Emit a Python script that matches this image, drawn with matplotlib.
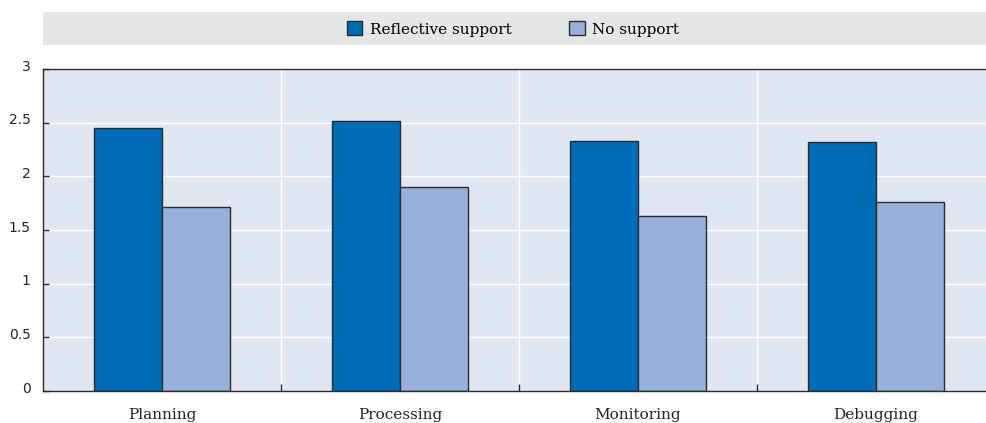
"""
Reflective support vs no support, grouped bar chart.
"""

import numpy as np
import matplotlib.pyplot as plt
import matplotlib.transforms as mtransforms
from matplotlib.patches import Rectangle, Patch

# ---------------------------------------------------------------------------
# Data
# ---------------------------------------------------------------------------

CATEGORIES = ["Planning", "Processing", "Monitoring", "Debugging"]
REFLECTIVE = [2.45, 2.52, 2.33, 2.32]
NO_SUPPORT = [1.71, 1.90, 1.63, 1.76]
Y_TICKS = [0, 0.5, 1, 1.5, 2, 2.5, 3]
Y_LABELS = ["0", "0.5", "1", "1.5", "2", "2.5", "3"]

C_REFL = "#006BB6"
C_NONE = "#97B1DC"
C_BG = "#E0E7F3"
C_EDGE = "#2b2b2b"
SERIF = "DejaVu Serif"

# ---------------------------------------------------------------------------
# Plot
# ---------------------------------------------------------------------------

fig = plt.figure(figsize=(9.87, 4.23), dpi=100)
# plot area runs past the right edge of the picture (clipped, as in the source)
ax = fig.add_axes([43 / 987, 32 / 423, 952 / 987, 322 / 423])
ax.set_facecolor(C_BG)

x = np.arange(len(CATEGORIES))
w = 0.286
ax.bar(x - w / 2, REFLECTIVE, w, color=C_REFL, edgecolor=C_EDGE, linewidth=1, zorder=3)
ax.bar(x + w / 2, NO_SUPPORT, w, color=C_NONE, edgecolor=C_EDGE, linewidth=1, zorder=3)

ax.set_xlim(-0.5, len(CATEGORIES) - 0.5)
ax.set_ylim(0, 3)

# grid: horizontal at y ticks, vertical at category boundaries
for yv in Y_TICKS[1:-1]:
    ax.axhline(yv, color="white", linewidth=1, zorder=1)
for xb in x[:-1] + 0.5:
    ax.axvline(xb, color="white", linewidth=1, zorder=1)

ax.set_yticks(Y_TICKS)
ax.set_yticklabels(Y_LABELS, fontsize=10, color="#222222")
ax.tick_params(axis="y", direction="in", length=4, width=1, color=C_EDGE, pad=9)
offset = mtransforms.ScaledTranslation(0, 4 / 100, fig.dpi_scale_trans)
for lbl in ax.get_yticklabels():
    lbl.set_transform(lbl.get_transform() + offset)

ax.set_xticks(x[:-1] + 0.5)
ax.set_xticklabels([])
ax.tick_params(axis="x", direction="in", length=5, width=1, color=C_EDGE)
for i, cat in enumerate(CATEGORIES):
    ax.text(i, -0.16, cat, ha="center", va="top", fontsize=11,
            family=SERIF, color="#222222")

for side in ["top", "left", "bottom"]:
    ax.spines[side].set_color(C_EDGE)
    ax.spines[side].set_linewidth(1)
    ax.spines[side].set_zorder(4)
ax.spines["right"].set_visible(False)

# legend band
fig.patches.append(Rectangle((43 / 987, 378 / 423), 952 / 987, 33 / 423,
                             transform=fig.transFigure, facecolor="#E5E6E8",
                             edgecolor="none", zorder=0))
handles = [Patch(facecolor=C_REFL, edgecolor=C_EDGE, linewidth=1),
           Patch(facecolor=C_NONE, edgecolor=C_EDGE, linewidth=1)]
fig.legend(handles, ["Reflective support", "No support"], ncol=2,
           loc="center", bbox_to_anchor=(513 / 987, 394 / 423), frameon=False,
           prop={"family": SERIF, "size": 11}, handlelength=1.0,
           handleheight=1.0, handletextpad=0.5, columnspacing=3.8)

plt.savefig("out.png", dpi=100)
